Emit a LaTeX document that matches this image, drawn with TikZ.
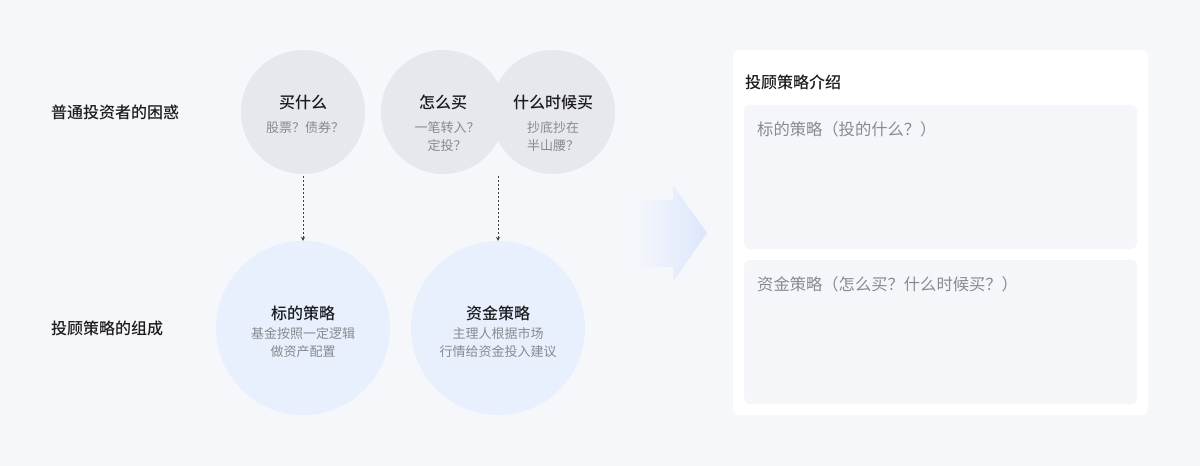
\documentclass[tikz,border=0pt]{standalone}
\usepackage{fontspec}
\setmainfont{Noto Sans CJK SC}
\newfontfamily\mediumcjk{Noto Sans CJK SC Medium}
\usetikzlibrary{arrows.meta, calc, positioning}
\usepackage{xcolor}
\definecolor{pagebg}{RGB}{246, 247, 251}
\definecolor{askgray}{RGB}{230, 232, 238}
\definecolor{planblue}{RGB}{232, 240, 253}
\definecolor{arrowblue}{RGB}{220, 231, 252}
\definecolor{inkdark}{RGB}{28, 28, 32}
\definecolor{inkgray}{RGB}{136, 138, 145}
\definecolor{boxgray}{RGB}{245, 246, 249}
\newcommand{\fsize}[1]{\fontsize{#1}{#1}\selectfont}

\tikzset{
  rowlabel/.style={anchor=west, inner sep=0pt, text=inkdark, font=\fsize{16}\mediumcjk},
  askcircle/.style={circle, fill=askgray, minimum size=124pt, inner sep=0pt},
  plancircle/.style={circle, fill=planblue, minimum size=174pt, inner sep=0pt},
  headtxt/.style={inner sep=0pt, text=inkdark, font=\fsize{16}\mediumcjk},
  subtxt/.style={inner sep=0pt, anchor=north, text=inkgray, align=center,
                 font=\fontsize{13}{18}\selectfont},
  flowarrow/.style={draw=inkdark!85, line width=0.7pt, dash pattern=on 2pt off 2pt,
                    -{Stealth[length=4pt, width=4pt]}},
  panelbox/.style={fill=white, rounded corners=6pt},
  notebox/.style={fill=boxgray, rounded corners=6pt},
  notetxt/.style={anchor=west, inner sep=0pt, text=inkgray, font=\fsize{16.3}},
}

\begin{document}
\begin{tikzpicture}[x=1pt, y=-1pt]
  % page background
  \fill[pagebg] (0,0) rectangle (1200,466);
  % row labels
  \node[rowlabel] (ask-label) at (51,112) {普通投资者的困惑};
  \node[rowlabel] (plan-label) at (51,328) {投顾策略的组成};
  % questions of the investor
  \node[askcircle] (buy-what) at (303,112) {};
  \node[askcircle] (how-buy) at (443,112) {};
  \node[askcircle] (when-buy) at (553,112) {};
  \node[headtxt] (buy-what-t) at (303,102) {买什么};
  \node[subtxt] at (305,121) {股票？债券？};
  \node[headtxt] (how-buy-t) at (443,102) {怎么买};
  \node[subtxt] at (447,121) {一笔转入？\\定投？};
  \node[headtxt] (when-buy-t) at (553,102) {什么时候买};
  \node[subtxt] at (553,121) {抄底抄在\\半山腰？};
  % parts of the strategy
  \node[plancircle] (target) at (303,328) {};
  \node[plancircle] (fund) at (498,328) {};
  \node[headtxt] (target-t) at (303,313) {标的策略};
  \node[subtxt] at (303,327) {基金按照一定逻辑\\做资产配置};
  \node[headtxt] (fund-t) at (498,313) {资金策略};
  \node[subtxt] at (498,327) {主理人根据市场\\行情给资金投入建议};
  % dashed links
  \coordinate (pair-foot) at ($(how-buy.south)!0.5!(when-buy.south)$);
  \draw[flowarrow] ([yshift=-2pt]buy-what.south) -- (target.north);
  \draw[flowarrow] ([yshift=-2pt]pair-foot) -- (fund.north);
  % big arrow
  \shade[left color=pagebg, right color=arrowblue]
    (632,200) -- (673,200) -- (673,185) -- (707,233) -- (673,282)
    -- (673,267) -- (632,267) -- cycle;
  % intro panel
  \fill[panelbox] (733,50) rectangle (1148,415);
  \node[rowlabel] (panel-title) at (745,82) {投顾策略介绍};
  \fill[notebox] (744,105) rectangle (1137,249);
  \node[notetxt] (target-note) at (757,129) {标的策略（投的什么？）};
  \fill[notebox] (744,260) rectangle (1137,404);
  \node[notetxt] (fund-note) at (757,284) {资金策略（怎么买？什么时候买？）};
\end{tikzpicture}
\end{document}
